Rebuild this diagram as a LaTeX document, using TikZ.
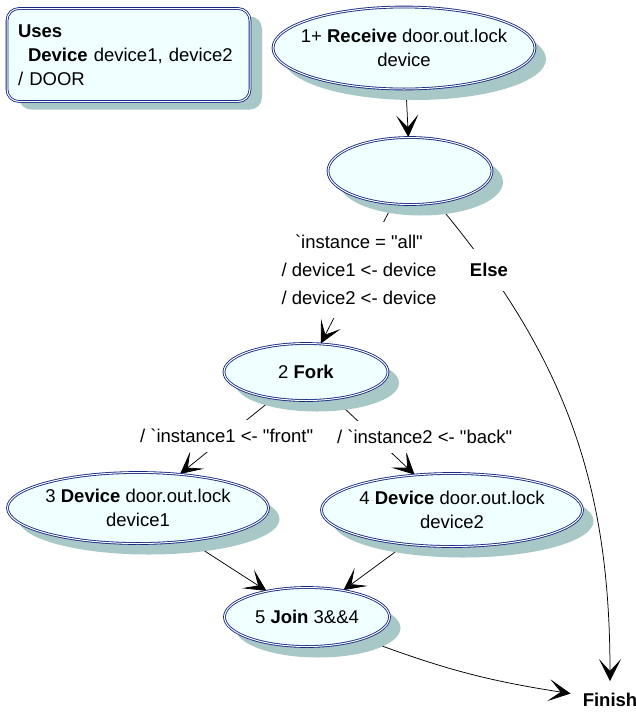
\documentclass[tikz,border=0pt]{standalone}
\usepackage{fontspec}
\setmainfont{Liberation Sans}[Ligatures=TeXOff]
\usetikzlibrary{arrows.meta,shapes.geometric,shadows,backgrounds}
\definecolor{ovalline}{RGB}{22,40,130}
\definecolor{ovalfill}{RGB}{240,255,255}
\definecolor{ovalshade}{RGB}{168,200,200}
\tikzset{state/.style={ellipse, draw=ovalline, double=white, double distance=1pt, line width=0.85pt,
			fill=ovalfill, inner xsep=-12pt, inner ysep=0pt, align=center,
			drop shadow={shadow xshift=11pt, shadow yshift=-11pt, fill=ovalshade, opacity=1}}}
\tikzset{usesbox/.style={rectangle, rounded corners=12pt, draw=ovalline, double=white, double distance=1pt,
			line width=0.85pt, fill=ovalfill, minimum width=243pt, minimum height=93pt,
			text width=221pt, inner xsep=11pt, align=left,
			drop shadow={shadow xshift=12pt, shadow yshift=-8pt, fill=ovalshade, opacity=1}}}
\tikzset{flow/.style={->, line width=0.75pt}}
\tikzset{guard/.style={fill=white, inner xsep=2pt, inner ysep=9pt, align=center,
			font=\fontsize{18.5pt}{28pt}\selectfont}}

\begin{document}
\begin{tikzpicture}[>={Stealth[length=22pt,width=22pt,inset=12pt]}, x=1pt, y=-1pt,
		font=\fontsize{18.5pt}{24pt}\selectfont]
	\useasboundingbox (0,0) rectangle (636,713);
	
	\node[usesbox] (uses) at (128.5,55) {\textbf{Uses}\\\hspace*{10pt}\textbf{Device} device1, device2\\/ DOOR};
	
	\node[state, minimum width=262pt, minimum height=82pt] (recv) at (404,48) {1+ \textbf{Receive} door.out.lock\\device};
	\node[state, minimum width=164pt, minimum height=67pt] (choice) at (410,171) {};
	\node[state, minimum width=164pt, minimum height=57pt] (fork) at (306,372) {2 \textbf{Fork}};
	\node[state, minimum width=261pt, minimum height=71pt] (dev1) at (138,508) {3 \textbf{Device} door.out.lock\\device1};
	\node[state, minimum width=261pt, minimum height=73pt] (dev2) at (452,510) {4 \textbf{Device} door.out.lock\\device2};
	\node[state, minimum width=165pt, minimum height=59pt] (join) at (307,617) {5 \textbf{Join} 3\&\&4};
	\node[inner sep=12pt] (finish) at (610,700) {\textbf{Finish}};
	
	\begin{pgfonlayer}{background}
		\draw[flow] (recv) -- (choice);
		\draw[flow] (choice) -- node[guard, pos=0.47, inner ysep=13pt]
			{`instance = "all"\\/ device1 <- device\\/ device2 <- device} (fork);
		\draw[flow] (choice) to[out=-50, in=90] node[guard, pos=0.15, inner xsep=3pt, inner ysep=14pt] {\textbf{Else}} (finish);
		
		\draw[flow] (fork) -- node[guard, pos=0.5] {/ `instance1 <- "front"} (dev1);
		\draw[flow] (fork) -- node[guard, pos=0.5, xshift=50pt] {/ `instance2 <- "back"} (dev2);
		
		\draw[flow] (dev1) -- (join);
		\draw[flow] (dev2) -- (join);
		\draw[flow] (join) to[bend right=6] (finish);
	\end{pgfonlayer}
\end{tikzpicture}
\end{document}
